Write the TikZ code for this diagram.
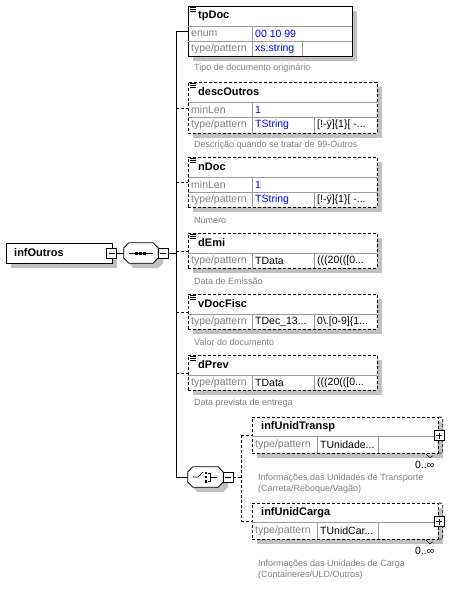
\documentclass[tikz,border=0pt]{standalone}
\usepackage{fontspec}
\setmainfont{Liberation Sans}
\usepackage{tikz}
\usetikzlibrary{shadows}
\definecolor{ink}{HTML}{000000}
\definecolor{muted}{HTML}{808080}
\definecolor{valc}{HTML}{0000FF}
\definecolor{shade}{HTML}{C0C0C0}
\definecolor{gridc}{HTML}{9A9A9A}
\newcommand{\octpath}[1]{([yshift=5pt]#1.west) -- ([xshift=5pt]#1.north west)
  -- ([xshift=-5pt]#1.north east) -- ([yshift=5pt]#1.east) -- ([yshift=-5pt]#1.east)
  -- ([xshift=-5pt]#1.south east) -- ([xshift=5pt]#1.south west) -- ([yshift=-5pt]#1.west) -- cycle}
\tikzset{
  elem/.style={draw=ink,fill=white,line width=0.8pt,anchor=north west,inner sep=0pt,
    drop shadow={shadow xshift=5pt,shadow yshift=-5pt,fill=shade,opacity=1}},
  optel/.style={elem,dash pattern=on 3pt off 2pt},
  model/.style={minimum width=34pt,minimum height=20pt,inner sep=0pt},
  octo/.style={draw=ink,fill=white,line width=0.8pt,
    drop shadow={shadow xshift=5pt,shadow yshift=-5pt,fill=shade,opacity=1}},
  tog/.style={draw=ink,fill=white,line width=0.6pt,minimum size=10pt,inner sep=0pt,
    path picture={\draw[line width=0.6pt] ([xshift=2pt]path picture bounding box.west)
      -- ([xshift=-2pt]path picture bounding box.east);}},
  togplus/.style={draw=ink,fill=white,line width=0.6pt,minimum size=10pt,inner sep=0pt,
    path picture={\draw[line width=0.6pt] ([xshift=2pt]path picture bounding box.west)
      -- ([xshift=-2pt]path picture bounding box.east);
      \draw[line width=0.6pt] ([yshift=-2pt]path picture bounding box.north)
      -- ([yshift=2pt]path picture bounding box.south);}},
  nm/.style={anchor=west,inner sep=0pt,font=\fontsize{11}{13}\selectfont\bfseries,text=ink},
  lbl/.style={anchor=west,inner sep=0pt,font=\fontsize{10.5}{12}\selectfont,text=#1},
  lbl/.default=muted,
  note/.style={anchor=west,inner sep=0pt,font=\fontsize{9}{11}\selectfont,text=muted,align=left},
  cell/.style={draw=gridc,line width=0.6pt},
  wire/.style={draw=ink,line width=0.8pt},
  optwire/.style={wire,dash pattern=on 3pt off 2pt},
}

\begin{document}
\begin{tikzpicture}[x=1pt,y=-1pt]
  \path[use as bounding box,fill=white] (0,0) rectangle (462,594);

  % root and sequence
  \node[elem,minimum width=106,minimum height=20] (infOutros) at (6,243) {};
  \node[nm] (infOutros-n) at (14,253) {infOutros};
  \node[tog] (infOutros-t) at (111.5,253) {};
  \node[model] (seq) at (141,253) {};
  \draw[octo] \octpath{seq};
  \draw[line width=0.8pt] (129,253) -- (153,253);
  \foreach \x in {134.5,138.5,142.5} \fill[ink] (\x,251.5) rectangle ++(3,3);
  \node[tog] (seq-t) at (163,253) {};
  \coordinate (tr) at (176,253);

  % children
  \node[elem,minimum width=164,minimum height=50] (tpDoc) at (188,6) {};
  \node[optel,minimum width=189,minimum height=51] (descOutros) at (188,82) {};
  \node[optel,minimum width=189,minimum height=50] (nDoc) at (188,157) {};
  \node[optel,minimum width=189,minimum height=35] (dEmi) at (188,233) {};
  \node[optel,minimum width=189,minimum height=35] (vDocFisc) at (188,294) {};
  \node[optel,minimum width=189,minimum height=35] (dPrev) at (188,355) {};

  \draw[cell] (188,26) -- (352,26) (188,41) -- (352,41) (252,26) -- (252,56) (302,41) -- (302,56);
  \draw[cell] (188,102) -- (377,102) (188,117) -- (377,117) (252,102) -- (252,133) (314,117) -- (314,133);
  \draw[cell] (188,177) -- (377,177) (188,192) -- (377,192) (252,177) -- (252,207) (314,192) -- (314,207);
  \foreach \t in {253,314,375} \draw[cell] (188,\t) -- (377,\t) (252,\t) -- (252,\t+15) (314,\t) -- (314,\t+15);

  \foreach \t in {6,82,157,233,294,355} \foreach \d in {1.5,3.5,5.5}
    \draw[line width=0.6pt] (190,{\t+\d}) -- (196,{\t+\d});

  \node[nm] (tpDoc-n) at (198,16) {tpDoc};
  \node[lbl] (tpDoc-a) at (191,33.5) {enum};
  \node[lbl=valc] (tpDoc-b) at (255,33.5) {00 10 99};
  \node[lbl] (tpDoc-c) at (191,48.5) {type/pattern};
  \node[lbl=valc] (tpDoc-d) at (255,48.5) {xs:string};
  \node[note] (tpDoc-x) at (194,68.5) {Tipo de documento originário};

  \node[nm] (descOutros-n) at (198,92) {descOutros};
  \node[lbl] (descOutros-a) at (191,109.5) {minLen};
  \node[lbl=valc] (descOutros-b) at (255,109.5) {1};
  \node[lbl] (descOutros-c) at (191,125) {type/pattern};
  \node[lbl=valc] (descOutros-d) at (255,125) {TString};
  \node[lbl=ink] (descOutros-e) at (317,125) {[!-ÿ]\{1\}[ -...};
  \node[note] (descOutros-x) at (194,145.5) {Descrição quando se tratar de 99-Outros};

  \node[nm] (nDoc-n) at (198,167) {nDoc};
  \node[lbl] (nDoc-a) at (191,184.5) {minLen};
  \node[lbl=valc] (nDoc-b) at (255,184.5) {1};
  \node[lbl] (nDoc-c) at (191,199.5) {type/pattern};
  \node[lbl=valc] (nDoc-d) at (255,199.5) {TString};
  \node[lbl=ink] (nDoc-e) at (317,199.5) {[!-ÿ]\{1\}[ -...};
  \node[note] (nDoc-x) at (194,220) {Número};

  \node[nm] (dEmi-n) at (198,243) {dEmi};
  \node[lbl] (dEmi-c) at (191,260.5) {type/pattern};
  \node[lbl=ink] (dEmi-d) at (255,260.5) {TData};
  \node[lbl=ink] (dEmi-e) at (317,260.5) {(((20(([0...};
  \node[note] (dEmi-x) at (194,281) {Data de Emissão};

  \node[nm] (vDocFisc-n) at (198,304) {vDocFisc};
  \node[lbl] (vDocFisc-c) at (191,321.5) {type/pattern};
  \node[lbl=ink] (vDocFisc-d) at (255,321.5) {TDec\_13...};
  \node[lbl=ink] (vDocFisc-e) at (317,321.5) {0\textbackslash.[0-9]\{1...};
  \node[note] (vDocFisc-x) at (194,342) {Valor do documento};

  \node[nm] (dPrev-n) at (198,365) {dPrev};
  \node[lbl] (dPrev-c) at (191,382.5) {type/pattern};
  \node[lbl=ink] (dPrev-d) at (255,382.5) {TData};
  \node[lbl=ink] (dPrev-e) at (317,382.5) {(((20(([0...};
  \node[note] (dPrev-x) at (194,403) {Data prevista de entrega};

  % choice
  \node[model,minimum width=35pt] (choice) at (205.5,477) {};
  \draw[octo] \octpath{choice};
  \draw[line width=0.8pt] (193,477) -- (198,477) -- (203,472);
  \foreach \yy in {471.5,475.75,480} \fill[ink] (204.5,\yy) rectangle ++(2.5,2.5);
  \draw[line width=0.8pt] (208,473) -- (210,473) -- (210,481) -- (208,481) (210,477) -- (217,477);
  \node[tog] (choice-t) at (228,477) {};
  \coordinate (br) at (241,477);

  \node[optel,minimum width=186,minimum height=36] (infUnidTransp) at (252,417) {};
  \node[optel,minimum width=186,minimum height=36] (infUnidCarga) at (252,503) {};
  \foreach \n in {infUnidTransp,infUnidCarga} {
    \draw[optwire,line width=0.8pt] (\n.north east) -- ++(2,0) -- ++(2,2) -- ++(0,34) -- ++(-4,0);
    \draw[line width=0.5pt] ([xshift=-13pt]\n.south east) -- ++(4,4) -- ++(3,-2);
  }
  \draw[cell] (252,436) -- (438,436) (317,436) -- (317,453) (378,436) -- (378,453);
  \draw[cell] (252,522) -- (438,522) (317,522) -- (317,539) (378,522) -- (378,539);
  \node[togplus] (infUnidTransp-t) at (439,435.5) {};
  \node[togplus] (infUnidCarga-t) at (439,521.5) {};

  \node[nm] (infUnidTransp-n) at (261,426.5) {infUnidTransp};
  \node[lbl] (infUnidTransp-c) at (255,444.5) {type/pattern};
  \node[lbl=ink] (infUnidTransp-d) at (320,444.5) {TUnidade...};
  \node[lbl=ink] (infUnidTransp-o) at (415,465) {0..∞};
  \node[note] (infUnidTransp-x) at (258,483.5) {Informações das Unidades de Transporte\\(Carreta/Reboque/Vagão)};

  \node[nm] (infUnidCarga-n) at (261,512.5) {infUnidCarga};
  \node[lbl] (infUnidCarga-c) at (255,530.5) {type/pattern};
  \node[lbl=ink] (infUnidCarga-d) at (320,530.5) {TUnidCar...};
  \node[lbl=ink] (infUnidCarga-o) at (415,551) {0..∞};
  \node[note] (infUnidCarga-x) at (258,569.5) {Informações das Unidades de Carga\\(Containeres/ULD/Outros)};

  % connectors
  \draw[wire] (infOutros-t.east) -- (seq.west);
  \draw[wire] (seq-t.east) -- (tr);
  \draw[wire] (tr |- tpDoc.west) -- (tr |- choice.west);
  \draw[wire] (tr |- tpDoc.west) -- (tpDoc.west);
  \foreach \n in {descOutros,nDoc,dEmi,vDocFisc,dPrev} \draw[optwire] (tr |- \n.west) -- (\n.west);
  \draw[wire] (tr |- choice.west) -- (choice.west);
  \draw[optwire] (choice-t.east) -- (br);
  \draw[optwire] (br |- infUnidTransp.west) -- (br |- infUnidCarga.west);
  \foreach \n in {infUnidTransp,infUnidCarga} \draw[optwire] (br |- \n.west) -- (\n.west);
\end{tikzpicture}
\end{document}
